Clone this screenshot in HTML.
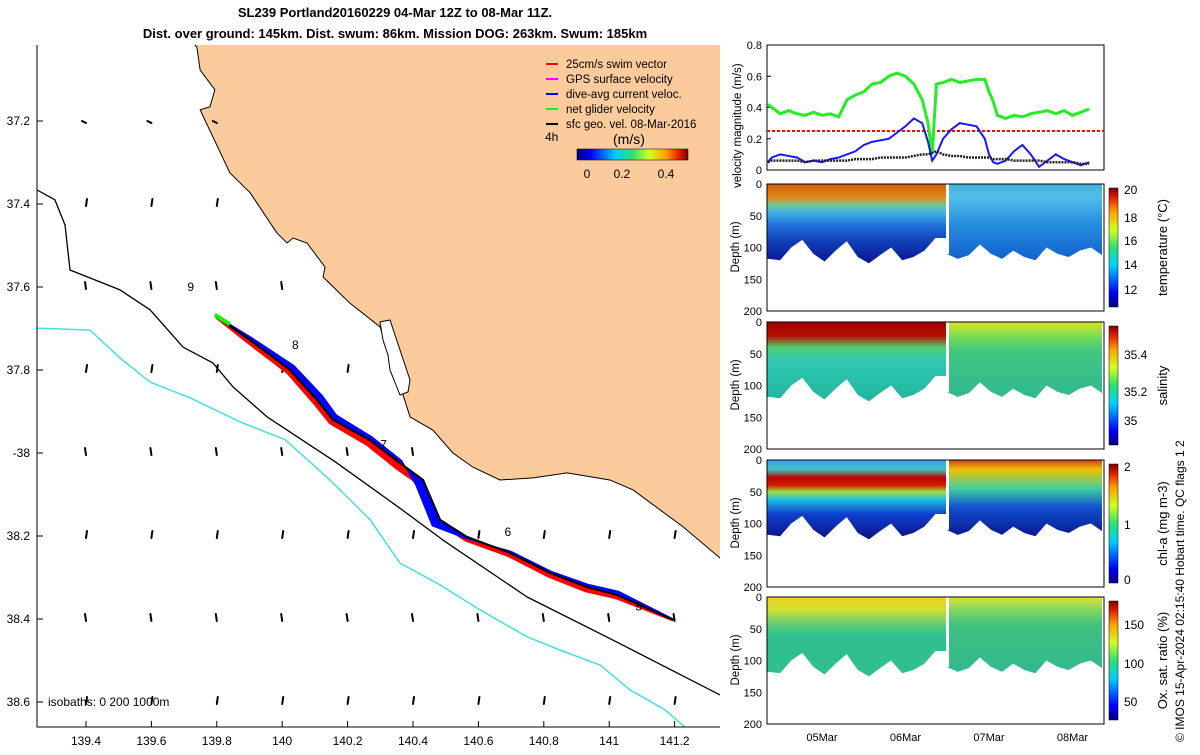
<!DOCTYPE html>
<html><head><meta charset="utf-8"><style>
body{margin:0;background:#fff;width:1200px;height:750px;overflow:hidden;font-family:"Liberation Sans",sans-serif}
svg text{font-family:"Liberation Sans",sans-serif}
</style></head><body>
<svg id="root" width="1200" height="750">
<defs>
<linearGradient id="jet" x1="0" y1="0" x2="1" y2="0">
<stop offset="0" stop-color="#00007f"/><stop offset="0.12" stop-color="#0000ff"/><stop offset="0.35" stop-color="#00d0ff"/><stop offset="0.5" stop-color="#30e070"/><stop offset="0.65" stop-color="#d0ff20"/><stop offset="0.8" stop-color="#ffa000"/><stop offset="0.92" stop-color="#e02000"/><stop offset="1" stop-color="#7f0000"/>
</linearGradient>
<linearGradient id="jetv" x1="0" y1="1" x2="0" y2="0">
<stop offset="0" stop-color="#00007f"/><stop offset="0.12" stop-color="#0000ff"/><stop offset="0.35" stop-color="#00d0ff"/><stop offset="0.5" stop-color="#30e070"/><stop offset="0.65" stop-color="#d0ff20"/><stop offset="0.8" stop-color="#ffa000"/><stop offset="0.92" stop-color="#e02000"/><stop offset="1" stop-color="#7f0000"/>
</linearGradient>
<clipPath id="mapclip"><rect x="37" y="45" width="683" height="682"/></clipPath>
</defs>
<text x="395" y="17" text-anchor="middle" font-size="13" font-weight="bold">SL239 Portland20160229 04-Mar 12Z to 08-Mar 11Z.</text>
<text x="395" y="38" text-anchor="middle" font-size="13" font-weight="bold">Dist. over ground: 145km. Dist. swum: 86km. Mission DOG: 263km. Swum: 185km</text>
<g id="map"></g>
<g id="vel"></g>
<g id="secs"></g>
<text transform="translate(1184,742) rotate(-90)" font-size="12">© IMOS 15-Apr-2024 02:15:40 Hobart time. QC flags 1  2</text>
</svg>
<script>
const NS="http://www.w3.org/2000/svg";
function mk(p,t,a){const el=document.createElementNS(NS,t);for(const k in a)el.setAttribute(k,a[k]);p.appendChild(el);return el;}
// ---------- MAP DATA ----------
const lonTicks=[139.4,139.6,139.8,140,140.2,140.4,140.6,140.8,141,141.2];
const latTicks=[37.2,37.4,37.6,37.8,38,38.2,38.4,38.6];
const latLabels=["37.2","37.4","37.6","37.8","-38","38.2","38.4","38.6"];
const coastLon=[139.718,139.739,139.749,139.794,139.779,139.749,139.840,139.902,139.984,140.015,140.033,140.076,140.131,140.125,140.207,140.299,140.345,140.391,140.461,140.522,140.583,140.666,140.767,140.871,141.002,141.073,141.226,141.354,141.354];
const coastLat=[37.005,37.022,37.077,37.125,37.166,37.173,37.325,37.373,37.470,37.494,37.482,37.494,37.552,37.576,37.639,37.696,37.800,37.913,37.945,38.000,38.034,38.065,38.060,38.048,38.065,38.089,38.178,38.263,37.005];
const iso1Lon=[139.250,139.305,139.336,139.351,139.504,139.596,139.697,139.788,139.850,139.954,140.160,140.360,140.492,140.749,141.012,141.339];
const iso1Lat=[37.366,37.390,37.451,37.559,37.607,37.655,37.745,37.783,37.841,37.913,38.020,38.133,38.210,38.347,38.451,38.583];
const iso2Lon=[139.250,139.412,139.504,139.596,139.718,139.871,140.009,140.146,140.269,140.360,140.483,140.605,140.749,140.850,140.972,141.064,141.171,141.278];
const iso2Lat=[37.699,37.704,37.771,37.829,37.867,37.925,37.968,38.065,38.161,38.265,38.318,38.378,38.443,38.475,38.511,38.571,38.619,38.692];
const trkLon=[139.80,139.902,140.024,140.106,140.155,140.268,140.360,140.431,140.483,140.565,140.697,140.819,140.932,141.024,141.195];
const trkLat=[37.672,37.728,37.800,37.872,37.920,37.969,38.024,38.065,38.161,38.202,38.241,38.289,38.323,38.342,38.402];
const curWidth=[0.5,3,6,7,6,4,3,-9,-10,-2,2,2,3,4,1];
const swimWidth=[1.5,4,4.5,5,5,6,7,7,4,4.5,4,4.5,5,4,1];
const mx=lon=>86+(lon-139.4)*327;
const my=lat=>121+(lat-37.2)*415;
const mapG=document.getElementById('map');
const cg=mk(mapG,'g',{'clip-path':'url(#mapclip)'});
let cd='';coastLon.forEach((v,i)=>cd+=(i?'L':'M')+mx(v)+','+my(coastLat[i]));
let ee=mk(cg,'path',{d:cd+'Z',fill:'#fbcb9b',stroke:'#000','stroke-width':1});


ee=mk(cg,'path',{d:'M380,322 L390,320 L395,335 L400,350 L405,365 L410,380 L408,392 L400,395 L396,385 L390,370 L388,355 L383,340 Z',fill:'#fff',stroke:'#000'});


function drawLine(lon,lat,col,w,name){let s='';lon.forEach((v,i)=>s+=(i?'L':'M')+mx(v)+','+my(lat[i]));const p=mk(cg,'path',{d:s,fill:'none',stroke:col,'stroke-width':w,'stroke-linejoin':'round'});return p;}
drawLine(iso1Lon,iso1Lat,'#000',1.3,'isobath-200m');
drawLine(iso2Lon,iso2Lat,'#3fe0e8',1.5,'isobath-1000m');
function coastYAt(x){for(let i=6;i<coastLon.length-2;i++){const x1=mx(coastLon[i]),x2=mx(coastLon[i+1]);if(x>=x1&&x<=x2){const y1=my(coastLat[i]),y2=my(coastLat[i+1]);return y1+(y2-y1)*(x-x1)/(x2-x1);}}return x<mx(coastLon[6])?-1:my(38.26);}
for(let i=0;i<lonTicks.length;i++)for(let j=0;j<latTicks.length;j++){const x=mx(lonTicks[i]),y=my(latTicks[j]);if(y<coastYAt(x)-3)continue;const dx=j==0?-4:(j%2?1:-1),dy2=j==0?0:-5;const a=mk(cg,'path',{d:`M${x},${y+2}L${x+dx},${y+dy2}`,stroke:'#000','stroke-width':2,'stroke-linecap':'round'});}
function offsetPoly(widths,sign,col,name){const P=trkLon.map((v,i)=>[mx(v),my(trkLat[i])]);let a='',b='';
 P.forEach((p,i)=>{const q=P[Math.min(i+1,P.length-1)],r=P[Math.max(i-1,0)];let tx=q[0]-r[0],ty=q[1]-r[1];const L=Math.hypot(tx,ty)||1;const nx=ty/L,ny=-tx/L;const w=widths[i]*sign;a+=(i?'L':'M')+p[0]+','+p[1];b=`L${p[0]+nx*w},${p[1]+ny*w}`+b;});
 const pe=mk(cg,'path',{d:a+b+'Z',fill:col,stroke:col,'stroke-width':1,'stroke-linejoin':'round'});}
offsetPoly(swimWidth,-1,'#ff0000','swim-vectors');
offsetPoly(curWidth,1,'#0000ff','dive-avg-current-band');
drawLine(trkLon,trkLat,'#000',2,'glider-track');
ee=mk(cg,'path',{d:`M${mx(139.8)-2},${my(37.672)-2}L${mx(139.84)},${my(37.69)}`,stroke:'#00ff00','stroke-width':4});


[[9,139.71,37.6],[8,140.03,37.74],[7,140.3,37.98],[6,140.68,38.19],[5,141.08,38.37]].forEach(t=>{const q=mk(cg,'text',{x:mx(t[1]),y:my(t[2])+4,'font-size':12});q.textContent=t[0];});
mk(mapG,'path',{d:'M37,45 L37,727 L720,727',fill:'none',stroke:'#000'});
lonTicks.forEach(v=>{const t=mk(mapG,'text',{x:mx(v),y:745,'text-anchor':'middle','font-size':12});t.textContent=v;mk(mapG,'line',{x1:mx(v),x2:mx(v),y1:727,y2:721,stroke:'#000'});});
latTicks.forEach((v,i)=>{const t=mk(mapG,'text',{x:30,y:my(v)+4,'text-anchor':'end','font-size':12});t.textContent=latLabels[i];mk(mapG,'line',{x1:37,x2:43,y1:my(v),y2:my(v),stroke:'#000'});});
ee=mk(mapG,'text',{x:48,y:706,'font-size':12});ee.textContent='isobaths: 0   200  1000m';


const leg=[['#f00','25cm/s swim vector'],['#f0f','GPS surface velocity'],['#00f','dive-avg current veloc.'],['#0f0','net glider velocity'],['#000','sfc geo. vel. 08-Mar-2016']];
leg.forEach((l,i)=>{const y=64+i*15;mk(mapG,'line',{x1:546,x2:558,y1:y,y2:y,stroke:l[0],'stroke-width':2});const t=mk(mapG,'text',{x:566,y:y+4,'font-size':11.5});t.textContent=l[1];});
ee=mk(mapG,'text',{x:545,y:141,'font-size':12});ee.textContent='4h';


ee=mk(mapG,'text',{x:613,y:144,'font-size':14});ee.textContent='(m/s)';


ee=mk(mapG,'rect',{x:577,y:149,width:111,height:11,fill:'url(#jet)',stroke:'#000','stroke-width':0.5});


[['0',587],['0.2',622],['0.4',666]].forEach(c=>{const t=mk(mapG,'text',{x:c[1],y:178,'text-anchor':'middle','font-size':12});t.textContent=c[0];});
// ---------- VELOCITY ----------
const vDays=[0.35,0.4,0.5,0.6,0.7,0.8,0.9,1.0,1.1,1.2,1.3,1.4,1.5,1.6,1.7,1.8,1.9,2.0,2.1,2.2,2.27,2.32,2.37,2.45,2.55,2.65,2.75,2.85,2.95,3.0,3.05,3.1,3.2,3.3,3.4,3.5,3.6,3.7,3.8,3.9,4.0,4.1,4.2];
const netVel=[0.42,0.4,0.36,0.38,0.36,0.35,0.37,0.35,0.36,0.34,0.45,0.48,0.5,0.55,0.56,0.6,0.62,0.6,0.55,0.45,0.3,0.1,0.55,0.56,0.58,0.56,0.57,0.58,0.58,0.5,0.44,0.35,0.33,0.35,0.34,0.36,0.37,0.38,0.36,0.38,0.35,0.37,0.39];
const curVel=[0.05,0.08,0.1,0.09,0.08,0.05,0.06,0.05,0.07,0.08,0.1,0.12,0.16,0.18,0.19,0.2,0.24,0.28,0.33,0.3,0.18,0.06,0.1,0.2,0.26,0.3,0.29,0.28,0.2,0.1,0.05,0.04,0.06,0.12,0.16,0.1,0.02,0.06,0.1,0.07,0.05,0.03,0.05];
const geoVel=[0.05,0.06,0.06,0.06,0.06,0.05,0.06,0.06,0.06,0.06,0.06,0.07,0.07,0.07,0.08,0.08,0.08,0.08,0.09,0.1,0.1,0.11,0.12,0.1,0.09,0.09,0.08,0.08,0.08,0.08,0.07,0.07,0.07,0.06,0.06,0.06,0.06,0.05,0.05,0.05,0.05,0.04,0.04];
const swimVel=0.25;
const vTicks=[0,0.2,0.4,0.6,0.8];
const tx=dd=>822+(dd-1)*83.5;
const vy=v=>170-v/0.8*125;
const velG=document.getElementById('vel');
mk(velG,'rect',{x:767,y:45,width:337,height:125,fill:'#fff',stroke:'#000'});
vTicks.forEach(v=>{const t=mk(velG,'text',{x:762,y:vy(v)+4,'text-anchor':'end','font-size':11});t.textContent=v;mk(velG,'line',{x1:767,x2:771,y1:vy(v),y2:vy(v),stroke:'#000'});});
function vline(arr,col,w,name,dash){let s='';arr.forEach((v,i)=>s+=(i?'L':'M')+tx(vDays[i])+','+vy(v));const p=mk(velG,'path',{d:s,fill:'none',stroke:col,'stroke-width':w});if(dash)p.setAttribute('stroke-dasharray',dash);}
ee=mk(velG,'line',{x1:767,x2:1104,y1:vy(swimVel),y2:vy(swimVel),stroke:'#f00','stroke-width':2,'stroke-dasharray':'3,2'});


vline(netVel,'#22ee22',3,'net-velocity-line');
vline(curVel,'#1515ff',2,'current-velocity-line');
vline(geoVel,'#222',2.5,'geo-velocity-line','2,1');
ee=mk(velG,'text',{transform:'translate(741,188) rotate(-90)','font-size':11.5});ee.textContent='velocity magnitude (m/s)';


// ---------- SECTIONS ----------
const bottomDepth=[118,120,100,88,110,122,105,90,115,125,112,100,120,115,105,85,110,118,112,95,110,118,105,115,120,100,110,115,105,100,112];
const sections=[
 {y0:184,name:'temperature',label:'temperature (°C)',ticks:[['20',190],['18',218],['16',241],['14',265],['12',290]],
  a:[['#d0600c',0],['#e08a1a',22],['#70c890',33],['#40b0e8',45],['#2070d8',65],['#1040b8',90],['#0a1a9a',120]],
  b:[['#40b0d8',0],['#50c0e8',20],['#2890e0',60],['#1060d0',120]]},
 {y0:322,name:'salinity',label:'salinity',ticks:[['35.4',355],['35.2',392],['35',421]],
  a:[['#a00000',0],['#b81000',22],['#50d070',40],['#30c8b0',60],['#20b8a0',120]],
  b:[['#e0e020',0],['#80e050',20],['#40c880',45],['#30b890',120]]},
 {y0:460,name:'chl-a',label:'chl-a (mg m-3)',ticks:[['2',467],['1',525],['0',580]],
  a:[['#40a0f0',0],['#40c0c0',15],['#c00000',28],['#d02000',40],['#a0e040',50],['#20c0e0',62],['#1040d0',85],['#0a1890',120]],
  b:[['#d04020',0],['#f0c000',15],['#40d0a0',45],['#1050d0',75],['#0a1890',120]]},
 {y0:597,name:'oxygen',label:'Ox. sat. ratio (%)',ticks:[['150',625],['100',664],['50',702]],
  a:[['#f0d020',0],['#d0e030',20],['#70d070',40],['#30c090',60],['#30c090',120]],
  b:[['#e0e030',0],['#80d860',20],['#40c080',45],['#30b890',120]]}
];
const secsG=document.getElementById('secs');
const X0=767,W=337,GAP=946;
sections.forEach((s,si)=>{
 const H=127,dy=dv=>s.y0+dv/200*H;
 const g=mk(secsG,'g',{});
 
 
 const ga=mk(g,'linearGradient',{id:'ga'+si,x1:0,x2:0,y1:dy(0),y2:dy(120),gradientUnits:'userSpaceOnUse'});
 s.a.forEach(c=>mk(ga,'stop',{offset:c[1]/120,'stop-color':c[0]}));
 const gb=mk(g,'linearGradient',{id:'gb'+si,x1:0,x2:0,y1:dy(0),y2:dy(120),gradientUnits:'userSpaceOnUse'});
 s.b.forEach(c=>mk(gb,'stop',{offset:c[1]/120,'stop-color':c[0]}));
 const n=bottomDepth.length;
 const bx=i=>X0+2+i*(W-4)/(n-1);
 let ra='',rb='';
 for(let i=n-1;i>=0;i--){const x=bx(i);if(x<=GAP)ra+='L'+x+','+dy(bottomDepth[i]);else rb+='L'+x+','+dy(bottomDepth[i]);}
 const gi=Math.floor((GAP-X0-2)/(W-4)*(n-1));
 mk(g,'path',{d:'M'+X0+','+dy(0)+'L'+GAP+','+dy(0)+'L'+GAP+','+dy(bottomDepth[gi])+ra+'L'+X0+','+dy(bottomDepth[0])+'Z',fill:'url(#ga'+si+')'});
 mk(g,'path',{d:'M'+(GAP+3)+','+dy(0)+'L'+(X0+W-2)+','+dy(0)+rb+'L'+(GAP+3)+','+dy(bottomDepth[gi+1])+'Z',fill:'url(#gb'+si+')'});
 mk(g,'rect',{x:X0,y:s.y0,width:W,height:H,fill:'none',stroke:'#000'});
 [0,50,100,150,200].forEach(v=>{const t=mk(g,'text',{x:762,y:dy(v)+4,'text-anchor':'end','font-size':11});t.textContent=v;});
 const yt=mk(g,'text',{transform:`translate(739,${s.y0+H/2+25}) rotate(-90)`,'font-size':11.5});yt.textContent='Depth (m)';
 
 
 const cb=mk(g,'rect',{x:1109,y:s.y0+4,width:9,height:H-8,fill:'url(#jetv)',stroke:'#000','stroke-width':0.5});
 
 
 s.ticks.forEach(t=>{const q=mk(g,'text',{x:1124,y:t[1]+4,'font-size':12});q.textContent=t[0];});
 const lt=mk(g,'text',{transform:`translate(1167,${s.y0+H/2}) rotate(-90)`,'text-anchor':'middle','font-size':13});lt.textContent=s.label;
 
 
});
[['05Mar',1],['06Mar',2],['07Mar',3],['08Mar',4]].forEach(t=>{const q=mk(secsG,'text',{x:tx(t[1]),y:741,'text-anchor':'middle','font-size':11});q.textContent=t[0];});
</script>
</body></html>
